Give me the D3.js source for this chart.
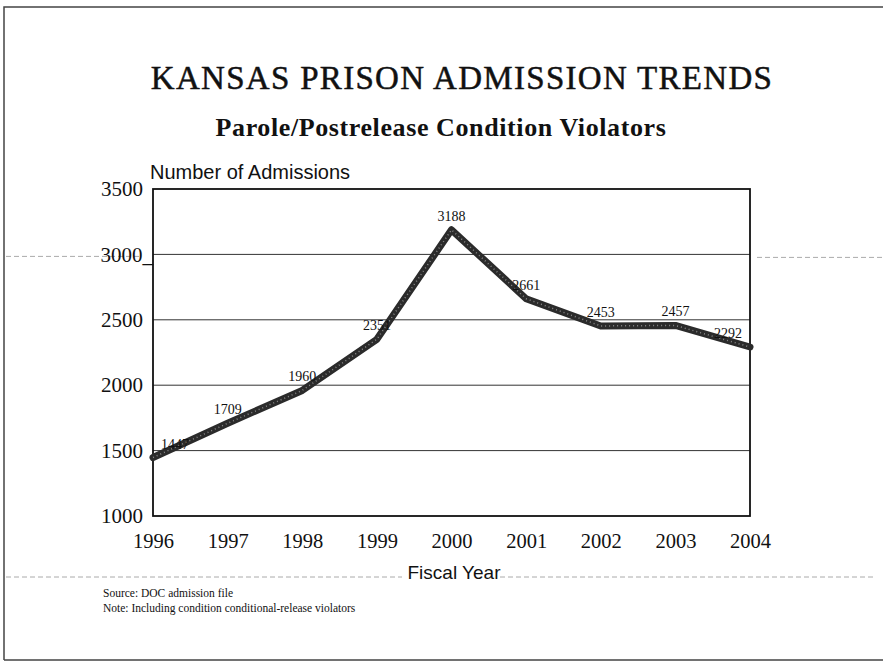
<!DOCTYPE html>
<html>
<head>
<meta charset="utf-8">
<script src="https://cdn.jsdelivr.net/npm/d3@7"></script>
<style>
  body { margin: 0; background: #fff; }
  svg { display: block; }
</style>
</head>
<body>
<svg id="chart"></svg>
<script>
const years = [1996, 1997, 1998, 1999, 2000, 2001, 2002, 2003, 2004];
const admissions = [1447, 1709, 1960, 2351, 3188, 2661, 2453, 2457, 2292];
const yTicks = [1000, 1500, 2000, 2500, 3000, 3500];
const yTickLabels = ["1000", "1500", "2000", "2500", "3000_", "3500"];

const width = 883;
const height = 668;
const margin = {top: 189, right: 133, bottom: 152, left: 153};

const serif = "Liberation Serif, Times New Roman, serif";
const sans = "Liberation Sans, Arial, sans-serif";

const svg = d3.select("#chart")
  .attr("width", width)
  .attr("height", height);

const x = d3.scaleLinear(d3.extent(years), [margin.left, width - margin.right]);
const y = d3.scaleLinear([1000, 3500], [height - margin.bottom, margin.top]);

// page frame (scanned sheet edges)
svg.append("path")
  .attr("d", `M4,660 V7 H883 M4,660 H883`)
  .attr("fill", "none")
  .attr("stroke", "#444")
  .attr("stroke-width", 1.5);

// faint show-through lines from the scan
svg.append("g")
  .attr("stroke", "#aaa")
  .attr("stroke-dasharray", "5,3")
  .attr("stroke-width", 1)
  .selectAll("line")
  .data([[6, 140, y(3000) + 2], [757, 883, y(3000) + 3], [6, 402, 577], [500, 875, 577]])
  .join("line")
  .attr("x1", d => d[0])
  .attr("x2", d => d[1])
  .attr("y1", d => d[2])
  .attr("y2", d => d[2]);

// titles
svg.append("text")
  .attr("x", 462)
  .attr("y", 89)
  .attr("text-anchor", "middle")
  .attr("font-family", serif)
  .attr("font-size", 33)
  .attr("letter-spacing", 1.3)
  .attr("fill", "#111")
  .attr("stroke", "#111")
  .attr("stroke-width", 0.5)
  .text("KANSAS PRISON ADMISSION TRENDS");

svg.append("text")
  .attr("x", 441)
  .attr("y", 136)
  .attr("text-anchor", "middle")
  .attr("font-family", serif)
  .attr("font-weight", "bold")
  .attr("font-size", 26)
  .attr("letter-spacing", 0.6)
  .attr("fill", "#111")
  .text("Parole/Postrelease Condition Violators");

svg.append("text")
  .attr("x", 150)
  .attr("y", 179)
  .attr("font-family", sans)
  .attr("font-size", 20)
  .attr("fill", "#111")
  .text("Number of Admissions");

// gridlines
svg.append("g")
  .attr("stroke", "#333")
  .attr("stroke-width", 1)
  .selectAll("line")
  .data(yTicks.filter(d => d > 1000 && d < 3500))
  .join("line")
  .attr("x1", margin.left)
  .attr("x2", width - margin.right)
  .attr("y1", d => y(d))
  .attr("y2", d => y(d));

// plot frame
svg.append("rect")
  .attr("x", margin.left)
  .attr("y", margin.top)
  .attr("width", width - margin.right - margin.left)
  .attr("height", height - margin.bottom - margin.top)
  .attr("fill", "none")
  .attr("stroke", "#111")
  .attr("stroke-width", 1.8);

// y axis labels
const yAxis = d3.axisLeft(y)
  .tickValues(yTicks)
  .tickFormat((d, i) => yTickLabels[i])
  .tickSize(0)
  .tickPadding(10);

svg.append("g")
  .attr("transform", `translate(${margin.left},0)`)
  .call(yAxis)
  .call(g => g.select(".domain").remove())
  .call(g => g.selectAll("text")
    .attr("font-family", serif)
    .attr("font-size", 21)
    .attr("fill", "#111")
    .attr("dx", d => d === 3000 ? 10 : 0)
    .attr("dy", "0.32em"));

// x axis labels
const xAxis = d3.axisBottom(x)
  .tickValues(years)
  .tickFormat(d3.format("d"))
  .tickSize(0)
  .tickPadding(17);

svg.append("g")
  .attr("transform", `translate(0,${height - margin.bottom})`)
  .call(xAxis)
  .call(g => g.select(".domain").remove())
  .call(g => g.selectAll("text")
    .attr("font-family", serif)
    .attr("font-size", 20.5)
    .attr("fill", "#111"));

svg.append("text")
  .attr("x", 454)
  .attr("y", 579)
  .attr("text-anchor", "middle")
  .attr("font-family", sans)
  .attr("font-size", 19)
  .attr("fill", "#111")
  .text("Fiscal Year");

// data line
const line = d3.line()
  .x((d, i) => x(years[i]))
  .y(d => y(d));

svg.append("path")
  .datum(admissions)
  .attr("d", line)
  .attr("fill", "none")
  .attr("stroke", "#2b2b2b")
  .attr("stroke-width", 7)
  .attr("stroke-linejoin", "round")
  .attr("stroke-linecap", "round");

svg.append("path")
  .datum(admissions)
  .attr("d", line)
  .attr("fill", "none")
  .attr("stroke", "#888")
  .attr("stroke-width", 1.5)
  .attr("stroke-dasharray", "1,3")
  .attr("stroke-linejoin", "round");

// data labels
const labelDx = [22, 0, 0, 0, 0, 0, 0, 0, -22];
svg.append("g")
  .selectAll("text")
  .data(admissions)
  .join("text")
  .attr("x", (d, i) => x(years[i]) + labelDx[i])
  .attr("y", d => y(d) - 9)
  .attr("text-anchor", "middle")
  .attr("font-family", serif)
  .attr("font-size", 14)
  .attr("fill", "#111")
  .text(d => d);

// notes
svg.append("g")
  .attr("font-family", serif)
  .attr("font-size", 11.5)
  .attr("fill", "#111")
  .selectAll("text")
  .data(["Source: DOC admission file", "Note: Including condition conditional-release violators"])
  .join("text")
  .attr("x", 103)
  .attr("y", (d, i) => 597 + i * 15)
  .text(d => d);
</script>
</body>
</html>
